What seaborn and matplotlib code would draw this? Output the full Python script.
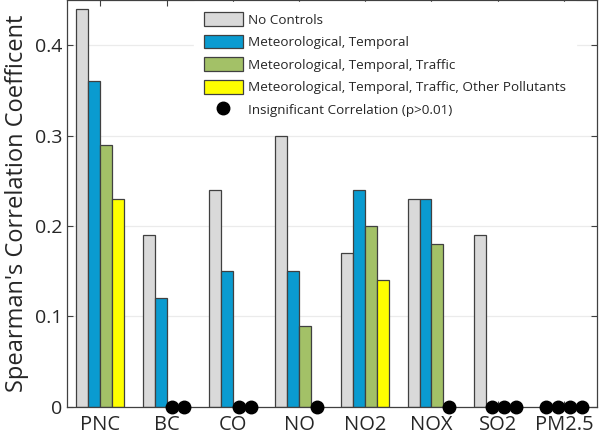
import numpy as np
import pandas as pd
import matplotlib
matplotlib.use('Agg')
import matplotlib.pyplot as plt
import seaborn as sns
from matplotlib.lines import Line2D
from matplotlib.ticker import FuncFormatter

# %% data
pollutants = ['PNC', 'BC', 'CO', 'NO', 'NO2', 'NOX', 'SO2', 'PM2.5']
models = ['No Controls',
          'Meteorological, Temporal',
          'Meteorological, Temporal, Traffic',
          'Meteorological, Temporal, Traffic, Other Pollutants']
# 0 where the correlation was not significant
no_controls = [0.44, 0.19, 0.24, 0.30, 0.17, 0.23, 0.19, 0.0]
met_temp = [0.36, 0.12, 0.15, 0.15, 0.24, 0.23, 0.0, 0.0]
met_temp_traffic = [0.29, 0.0, 0.0, 0.09, 0.20, 0.18, 0.0, 0.0]
met_temp_traffic_poll = [0.23, 0.0, 0.0, 0.0, 0.14, 0.0, 0.0, 0.0]
# True = insignificant correlation (p>0.01)
insig_no_controls = [False, False, False, False, False, False, False, True]
insig_met_temp = [False, False, False, False, False, False, True, True]
insig_met_temp_traffic = [False, True, True, False, False, False, True, True]
insig_met_temp_traffic_poll = [False, True, True, True, False, True, True, True]

colors = ['#D9D9D9', '#0A9BD0', '#A3C167', '#FFFF00']

series = [no_controls, met_temp, met_temp_traffic, met_temp_traffic_poll]
insig = [insig_no_controls, insig_met_temp, insig_met_temp_traffic, insig_met_temp_traffic_poll]

df = pd.DataFrame({
    'Pollutant': pollutants * 4,
    'Model': np.repeat(models, len(pollutants)),
    'Value': np.concatenate(series),
})

# %% plot
sns.set_style('white')
plt.rcParams['font.family'] = ['Open Sans', 'DejaVu Sans']
plt.rcParams['text.color'] = '#262626'

fig = plt.figure(figsize=(6, 4.38), dpi=100)
ax = fig.add_axes([0.112, 0.071, 0.883, 0.929])

sns.barplot(data=df, x='Pollutant', y='Value', hue='Model', order=pollutants,
            hue_order=models, palette=colors, width=0.72, edgecolor='#404040',
            linewidth=0.9, saturation=1, ax=ax, legend=False, zorder=2)

# dots for insignificant correlations at the bar positions
for cont, flags in zip(ax.containers, insig):
    for patch, flag in zip(cont.patches, flags):
        if flag:
            patch.set_visible(False)
            ax.plot(patch.get_x() + patch.get_width() / 2, 0, 'o', color='black',
                    markersize=9, clip_on=False, zorder=5)

ax.set_xlim(-0.5, 7.5)
ax.set_ylim(0, 0.45)
ax.set_yticks([0, 0.1, 0.2, 0.3, 0.4])
ax.yaxis.set_major_formatter(FuncFormatter(lambda v, p: '0' if v == 0 else f'{v:.1f}'))
ax.grid(axis='y', color='#EBEBEB', linewidth=0.9, zorder=0)
ax.set_axisbelow(True)
ax.tick_params(axis='both', direction='in', length=4, color='#404040',
               labelsize=14, labelcolor='#262626', top=True, right=True,
               bottom=True, left=True)
ax.tick_params(axis='x', pad=6, labelsize=14.5)
for s in ax.spines.values():
    s.set_color('#404040')
    s.set_linewidth(0.9)
ax.set_xlabel('')
ax.set_ylabel("Spearman's Correlation Coefficent", fontsize=17, color='#262626',
              labelpad=4)

handles = [plt.Rectangle((0, 0), 1, 1, facecolor=c, edgecolor='#404040', linewidth=0.9)
           for c in colors]
handles.append(Line2D([], [], marker='o', color='black', linestyle='none', markersize=9))
labels = models + ['Insignificant Correlation (p>0.01)']
leg = ax.legend(handles, labels, loc='upper right', bbox_to_anchor=(0.96, 0.995),
                borderaxespad=0, fontsize=9.7, frameon=True, fancybox=False,
                framealpha=1, edgecolor='white', handlelength=2.9, handleheight=1.2,
                labelspacing=0.6, handletextpad=0.35, borderpad=0.75)
leg.set_zorder(6)

fig.savefig('out.png', dpi=100)
